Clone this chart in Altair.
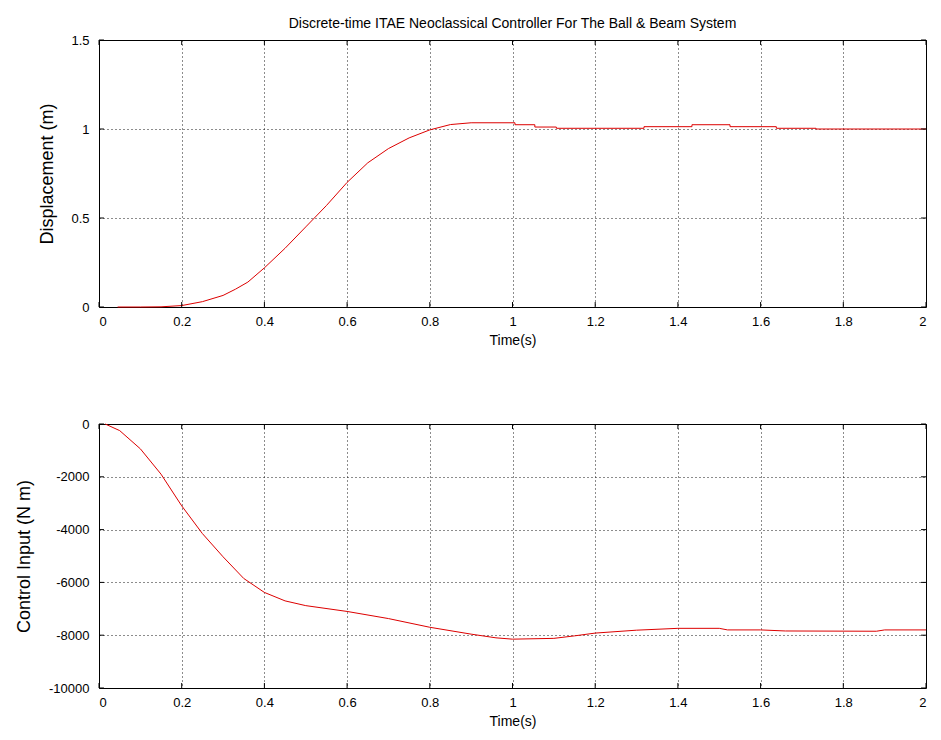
import altair as alt
import pandas as pd

# ---- data ----
t_disp = [0.045, 0.1, 0.15, 0.2, 0.25, 0.3, 0.33, 0.36, 0.4, 0.45, 0.5, 0.55, 0.6, 0.65,
          0.7, 0.75, 0.8, 0.85, 0.9, 1.006, 1.006, 1.054, 1.054, 1.106, 1.106, 1.318, 1.318,
          1.434, 1.434, 1.526, 1.526, 1.638, 1.638, 1.734, 1.734, 2.0]
y_disp = [0.0, 0.0, 0.001, 0.008, 0.03, 0.065, 0.1, 0.14, 0.22, 0.33, 0.45, 0.57, 0.70, 0.81,
          0.89, 0.95, 0.995, 1.025, 1.035, 1.035, 1.024, 1.024, 1.011, 1.011, 1.004, 1.004, 1.013,
          1.013, 1.024, 1.024, 1.013, 1.013, 1.004, 1.004, 1.0, 1.0]

t_ctrl = [0.015, 0.05, 0.1, 0.15, 0.2, 0.25, 0.3, 0.35, 0.4, 0.45, 0.5, 0.6, 0.7, 0.8, 0.9,
          0.96, 1.0, 1.1, 1.15, 1.2, 1.3, 1.4, 1.5, 1.52, 1.6, 1.66, 1.88, 1.9, 2.0]
u_ctrl = [0, -250, -940, -1900, -3100, -4150, -5030, -5850, -6380, -6700, -6880, -7100, -7370,
          -7700, -7960, -8100, -8150, -8120, -8025, -7920, -7810, -7740, -7740, -7800, -7800,
          -7840, -7850, -7800, -7800]

x_ticks = [0, 0.2, 0.4, 0.6, 0.8, 1, 1.2, 1.4, 1.6, 1.8, 2]
disp_ticks = [0, 0.5, 1, 1.5]
ctrl_ticks = [-10000, -8000, -6000, -4000, -2000, 0]

TITLE = "Discrete-time ITAE Neoclassical Controller For The Ball & Beam System"
FONT = "Liberation Sans"
LINE = "#dd0000"

x_scale = alt.Scale(domain=[0, 2], nice=False, zero=False)


def x_axis():
    return alt.Axis(values=x_ticks, title="Time(s)", grid=True, gridDash=[1, 3],
                    gridColor="black", gridOpacity=0.9, ticks=False, domain=False,
                    labelPadding=8, titlePadding=5, titleFontSize=14,
                    labelExpr="'' + datum.value")


def y_axis(vals, title, title_x):
    return alt.Axis(values=vals, title=title, grid=True, gridDash=[1, 3],
                    gridColor="black", gridOpacity=0.9, ticks=False, domain=False,
                    labelPadding=10, titleX=title_x, titleBaseline="middle",
                    titleFontSize=18, labelExpr="'' + datum.value")


def panel(t, v, yticks, ydomain, ytitle, title_x, tick_len_y, height):
    df = pd.DataFrame({"t": t, "v": v, "i": list(range(len(t)))})
    y_scale = alt.Scale(domain=ydomain, nice=False, zero=False)
    xa = x_axis()
    ya = y_axis(yticks, ytitle, title_x)
    line = alt.Chart(df).mark_line(color=LINE, strokeWidth=1).encode(
        x=alt.X("t:Q", scale=x_scale, axis=xa),
        y=alt.Y("v:Q", scale=y_scale, axis=ya),
        order="i:Q",
    )
    lo, hi = ydomain
    tx = 0.012
    xt = pd.DataFrame({"t": x_ticks * 2,
                       "v": [lo] * len(x_ticks) + [hi] * len(x_ticks),
                       "v2": [lo + tick_len_y] * len(x_ticks) + [hi - tick_len_y] * len(x_ticks)})
    yt = pd.DataFrame({"v": yticks * 2,
                       "t": [0] * len(yticks) + [2] * len(yticks),
                       "t2": [tx] * len(yticks) + [2 - tx] * len(yticks)})
    xr = alt.Chart(xt).mark_rule(color="black", strokeWidth=1).encode(
        x=alt.X("t:Q", scale=x_scale, axis=xa),
        y=alt.Y("v:Q", scale=y_scale, axis=ya), y2="v2:Q")
    yr = alt.Chart(yt).mark_rule(color="black", strokeWidth=1).encode(
        x=alt.X("t:Q", scale=x_scale, axis=xa), x2="t2:Q",
        y=alt.Y("v:Q", scale=y_scale, axis=ya))
    return alt.layer(line, xr, yr).properties(width=827, height=height)


top = panel(t_disp, y_disp, disp_ticks, [0, 1.5], "Displacement (m)", -52, 0.028, 267).properties(
    title=alt.TitleParams(TITLE, fontSize=14, fontWeight="normal", font=FONT,
                          color="black", anchor="middle", offset=3))
bottom = panel(t_ctrl, u_ctrl, ctrl_ticks, [-10000, 0], "Control Input (N m)", -75, 190, 264)

chart = alt.vconcat(top, bottom, spacing=117, bounds="flush").properties(
    padding={"left": 6, "top": 8, "right": 0, "bottom": 0},
    background="white",
).configure_view(stroke="black", strokeWidth=1).configure_axis(
    labelFont=FONT, titleFont=FONT, labelFontSize=13, titleFontSize=13,
    labelColor="black", titleColor="black", titleFontWeight="normal",
)

chart.save("out.html", embed_options={"renderer": "svg", "actions": False})
